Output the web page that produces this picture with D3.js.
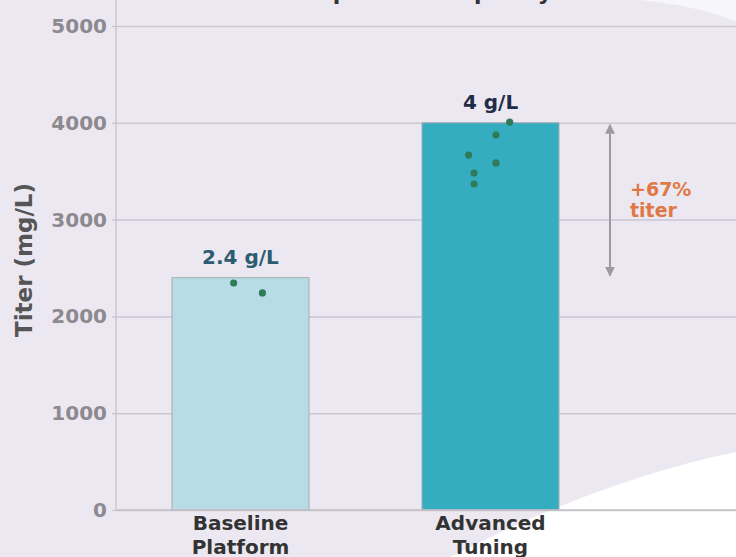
<!DOCTYPE html>
<html>
<head>
<meta charset="utf-8">
<script src="https://cdn.jsdelivr.net/npm/d3@7"></script>
<style>
  html, body { margin: 0; padding: 0; background: #ece8f2; }
  svg { display: block; font-family: "DejaVu Sans", sans-serif; }
</style>
</head>
<body>
<svg id="chart" width="736" height="557"></svg>
<script>
// Titer per process: bar = reported titer, dots = individual runs
const categories = ["Baseline Platform", "Advanced Tuning"];
const categoryLines = [["Baseline", "Platform"], ["Advanced", "Tuning"]];
const titers = [2400, 4000];                 // mg/L
const titerLabels = ["2.4 g/L", "4 g/L"];
const baselineRuns = [2345, 2242];
const advancedRuns = [4008, 3874, 3667, 3585, 3481, 3368];
const baselineJitter = [-0.05, 0.16];        // fraction of bar width
const advancedJitter = [0.14, 0.04, -0.16, 0.04, -0.12, -0.12];
const yTicks = [0, 1000, 2000, 3000, 4000, 5000];
const titleText = "Titer increase at preserved quality";
const yLabel = "Titer (mg/L)";

const barFills = ["#b7dce5", "#35adc1"];
const valueColors = ["#2b5c70", "#1f2c46"];
const dotColor = "#2f7a57";
const accent = "#e07845";

const W = 736, H = 557;
const plotLeft = 116, plotRight = 736, plotTop = 26, plotBottom = 510;

const svg = d3.select("#chart");

// backdrop with soft white swooshes
svg.append("rect").attr("width", W).attr("height", H).attr("fill", "#ece8f2");
svg.append("path").attr("d", "M450,557 Q600,480 736,452 L736,557 Z").attr("fill", "#ffffff");
svg.append("path").attr("d", "M640,0 Q700,6 736,22 L736,0 Z").attr("fill", "#f7f6fa");

const x = d3.scaleBand().domain(categories).range([plotLeft, 615])
  .paddingInner(0.452).paddingOuter(0.224);
const y = d3.scaleLinear().domain([0, 5000]).range([plotBottom, plotTop]);

// title (sits mostly above the visible area)
svg.append("text").attr("x", 552).attr("y", 0).attr("text-anchor", "end")
  .attr("font-size", 22).attr("font-weight", "bold").attr("fill", "#333")
  .text(titleText);

// gridlines
const grid = svg.append("g").attr("transform", `translate(${plotLeft},0)`)
  .call(d3.axisLeft(y).tickValues(yTicks).tickSize(-(plotRight - plotLeft)).tickFormat(""));
grid.select(".domain").remove();
grid.selectAll("line").attr("stroke", "#cbc6d0").attr("stroke-width", 1.5);

// y axis
const yAxis = svg.append("g").attr("transform", `translate(${plotLeft},0)`)
  .call(d3.axisLeft(y).tickValues(yTicks).tickSize(4).tickPadding(5).tickFormat(d3.format("d")));
yAxis.select(".domain").attr("stroke", "#c4c0c8").attr("stroke-width", 1.2)
  .attr("d", `M0,${plotBottom}V0`);
yAxis.selectAll(".tick line").attr("stroke", "#c4c0c8");
yAxis.selectAll(".tick text").attr("font-size", 20).attr("font-weight", "bold")
  .attr("fill", "#8c8a8e").attr("font-family", "DejaVu Sans, sans-serif");

// bars
svg.append("g").selectAll("rect").data(categories).join("rect")
  .attr("x", d => x(d)).attr("width", x.bandwidth())
  .attr("y", (d, i) => y(titers[i])).attr("height", (d, i) => y(0) - y(titers[i]))
  .attr("fill", (d, i) => barFills[i]).attr("stroke", "#a6aab0").attr("stroke-width", 1);

// x axis line
svg.append("line").attr("x1", plotLeft).attr("x2", plotRight).attr("y1", plotBottom).attr("y2", plotBottom)
  .attr("stroke", "#c4c0c8").attr("stroke-width", 1.5);

// category labels
const xAxis = svg.append("g").attr("transform", `translate(0,${plotBottom})`)
  .call(d3.axisBottom(x).tickSize(0).tickFormat(""));
xAxis.select(".domain").remove();
xAxis.selectAll(".tick").each(function (d, i) {
  const t = d3.select(this).append("text").attr("text-anchor", "middle")
    .attr("font-size", 20).attr("font-weight", "bold").attr("fill", "#333")
    .attr("font-family", "DejaVu Sans, sans-serif");
  categoryLines[i].forEach((line, k) => {
    t.append("tspan").attr("x", 0).attr("y", 20 + k * 24).text(line);
  });
});

// value labels
svg.append("g").selectAll("text").data(categories).join("text")
  .attr("x", d => x(d) + x.bandwidth() / 2).attr("y", (d, i) => y(titers[i]) - 14)
  .attr("text-anchor", "middle").attr("font-size", 20).attr("font-weight", "bold")
  .attr("fill", (d, i) => valueColors[i]).text((d, i) => titerLabels[i]);

// individual runs
const runs = [
  ...baselineRuns.map((v, k) => ({ cat: categories[0], v, j: baselineJitter[k] })),
  ...advancedRuns.map((v, k) => ({ cat: categories[1], v, j: advancedJitter[k] }))
];
svg.append("g").selectAll("circle").data(runs).join("circle")
  .attr("cx", d => x(d.cat) + x.bandwidth() * (0.5 + d.j)).attr("cy", d => y(d.v))
  .attr("r", 3.6).attr("fill", dotColor);

// gain annotation
const defs = svg.append("defs");
defs.append("marker").attr("id", "ah").attr("viewBox", "0 0 10 10")
  .attr("refX", 9).attr("refY", 5).attr("markerWidth", 5).attr("markerHeight", 5)
  .attr("orient", "auto-start-reverse")
  .append("path").attr("d", "M0,0 L10,5 L0,10 Z").attr("fill", "#9c9aa0");
const ax = 610;
svg.append("line").attr("x1", ax).attr("x2", ax)
  .attr("y1", y(titers[1]) + 2).attr("y2", y(titers[0]) - 2)
  .attr("stroke", "#9c9aa0").attr("stroke-width", 2)
  .attr("marker-start", "url(#ah)").attr("marker-end", "url(#ah)");
const gain = Math.round((titers[1] - titers[0]) / titers[0] * 100);
const ann = svg.append("text").attr("font-size", 19).attr("font-weight", "bold").attr("fill", accent);
ann.append("tspan").attr("x", 630).attr("y", 196).text(`+${gain}%`);
ann.append("tspan").attr("x", 630).attr("y", 217).text("titer");

// y axis title
svg.append("text").attr("transform", "translate(32,260) rotate(-90)")
  .attr("text-anchor", "middle").attr("font-size", 23).attr("font-weight", "bold")
  .attr("fill", "#555").text(yLabel);
</script>
</body>
</html>
